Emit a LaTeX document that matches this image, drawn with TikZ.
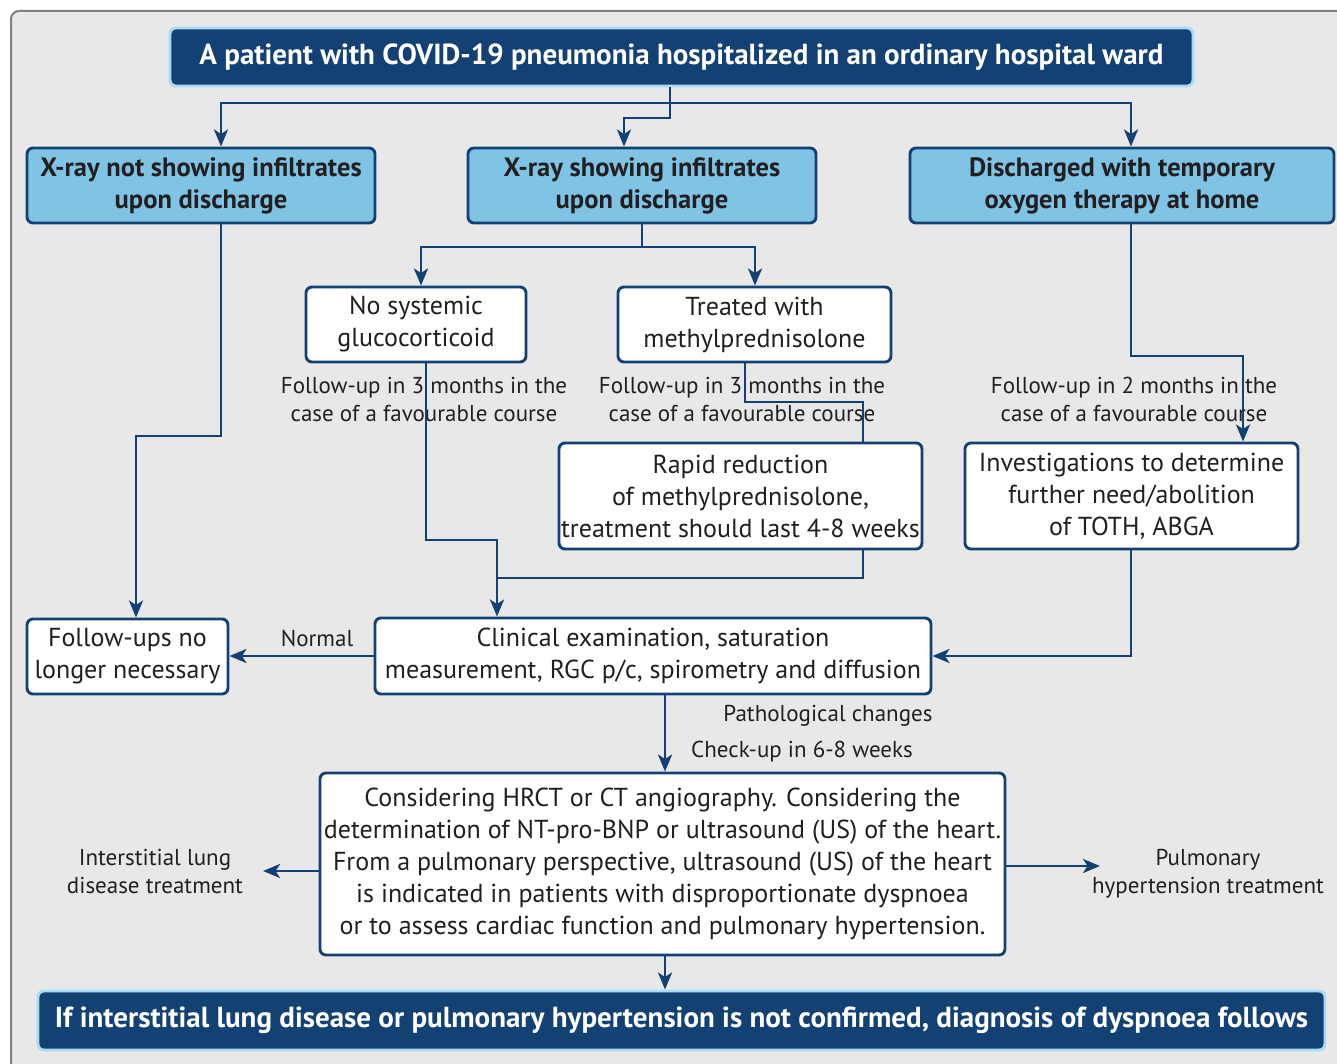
\documentclass[tikz,border=0pt]{standalone}
\usepackage{fontspec}
\setmainfont{PT Sans}
\usetikzlibrary{arrows.meta}
\definecolor{dblue}{HTML}{134173}
\definecolor{lblue}{HTML}{7FC4E4}
\definecolor{lborder}{HTML}{A8DCF2}
\definecolor{bgc}{HTML}{E8E8E8}
\definecolor{frm}{HTML}{808080}
\definecolor{txt}{HTML}{231F20}
\begin{document}
\begin{tikzpicture}[x=1pt,y=-1pt,
 line/.style={draw=dblue,line width=2.9pt},
 arr/.style={line,-{Stealth[length=17pt,width=14pt,inset=4.5pt]}},
 darkbox/.style={draw=lborder,line width=2.9pt,fill=dblue,rounded corners=6pt,text=white,inner sep=0pt,font=\fontsize{29}{32}\selectfont\bfseries},
 lbox/.style={draw=dblue,line width=2.9pt,fill=lblue,rounded corners=6pt,text=txt,align=center,inner sep=0pt,font=\fontsize{26.5}{32}\selectfont\bfseries},
 wbox/.style={draw=dblue,line width=2.9pt,fill=white,rounded corners=6pt,text=txt,align=center,inner sep=0pt,font=\fontsize{26}{32}\selectfont},
 lab/.style={text=txt,align=center,inner sep=0pt,font=\fontsize{23}{28}\selectfont},
]
\useasboundingbox (0,0) rectangle (1337,1064);
\begin{scope}
\clip (0,0) rectangle (1337,1064);
\draw[draw=frm,line width=2pt,fill=bgc,rounded corners=8pt] (11,11) rectangle (1370,1100);
\end{scope}

% nodes
\node[darkbox,minimum width=1023,minimum height=58] (top) at (681.5,57) {A patient with COVID-19 pneumonia hospitalized in an ordinary hospital ward};
\node[lbox,minimum width=348,minimum height=75] (b1) at (201,185.5) {X-ray not showing infiltrates\\upon discharge};
\node[lbox,minimum width=348,minimum height=75] (b2) at (642,185.5) {X-ray showing infiltrates\\upon discharge};
\node[lbox,minimum width=424,minimum height=75] (b3) at (1122,185.5) {Discharged with temporary\\oxygen therapy at home};
\node[wbox,minimum width=220,minimum height=75] (n1) at (416,324.5) {No systemic\\glucocorticoid};
\node[wbox,minimum width=273,minimum height=75] (n2) at (754.5,324.5) {Treated with\\methylprednisolone};
\node[wbox,minimum width=363,minimum height=106] (rapid) at (740.5,496) {Rapid reduction\\of methylprednisolone,\\treatment should last 4-8 weeks};
\node[wbox,minimum width=333,minimum height=106] (inv) at (1131.5,496) {Investigations to determine\\further need/abolition\\of TOTH, ABGA};
\node[wbox,minimum width=201,minimum height=75] (fu) at (127.5,656.5) {Follow-ups no\\longer necessary};
\node[wbox,minimum width=556,minimum height=76] (clin) at (653,656) {Clinical examination, saturation\\measurement, RGC p/c, spirometry and diffusion};
\node[wbox,minimum width=685,minimum height=182] (big) at (662.5,864) {Considering HRCT or CT angiography. Considering the\\determination of NT-pro-BNP or ultrasound (US) of the heart.\\From a pulmonary perspective, ultrasound (US) of the heart\\is indicated in patients with disproportionate dyspnoea\\or to assess cardiac function and pulmonary hypertension.};
\node[darkbox,minimum width=1287,minimum height=59] (bot) at (681.5,1020.5) {If interstitial lung disease or pulmonary hypertension is not confirmed, diagnosis of dyspnoea follows};

% labels
\node[lab] (f1) at (424,399) {Follow-up in 3 months in the\\case of a favourable course};
\node[lab] (f2) at (742,399) {Follow-up in 3 months in the\\case of a favourable course};
\node[lab] (f3) at (1134,399) {Follow-up in 2 months in the\\case of a favourable course};
\node[lab] (normal) at (317,638) {Normal};
\node[lab] (patho) at (828,716) {Pathological changes};
\node[lab] (check) at (802,752) {Check-up in 6-8 weeks};
\node[lab] (ild) at (155,871) {Interstitial lung\\disease treatment};
\node[lab] (ph) at (1208,874) {Pulmonary\\hypertension treatment};

% helper coordinates
\coordinate (x221) at (221,0);
\coordinate (x624) at (624,0);
\coordinate (x670) at (670,0);
\coordinate (x1131) at (1131,0);
\coordinate (x136) at (136,0);
\coordinate (x421) at (421,0);
\coordinate (x755) at (755,0);
\coordinate (x497) at (497,0);
\coordinate (x863) at (863,0);
\coordinate (x1243) at (1243,0);
\coordinate (x665) at (665,0);
\coordinate (j0) at (670,103);
\coordinate (jm) at (670,118);
\coordinate (k1) at (221,436);
\coordinate (k2) at (642,247);
\coordinate (k3) at (426,540);
\coordinate (k4) at (745,402);
\coordinate (k5) at (863,578);
\coordinate (k6) at (1131,356);
\coordinate (k7) at (1131,656);
\coordinate (ildtip) at (263,871);
\coordinate (ildstart) at (320,871);
\coordinate (phstart) at (1005,866);
\coordinate (phtip) at (1100,866);

% connectors
\draw[line] (top.south -| x670) -- (j0);
\draw[arr] (j0) -| (b1.north -| x221);
\draw[arr] (j0) -| (b3.north -| x1131);
\draw[arr] (j0) -- (jm) -| (b2.north -| x624);
\draw[arr] (b1.south -| k1) -- (k1) -| (fu.north -| x136);
\draw[line] (b2.south -| k2) -- (k2);
\draw[arr] (k2) -| (n1.north -| x421);
\draw[arr] (k2) -| (n2.north -| x755);
\draw[arr] (n1.south -| k3) -- (k3) -| (clin.north -| x497);
\draw[line] (n2.south -| k4) -- (k4) -| (rapid.north -| x863);
\draw[line] (rapid.south -| k5) -- (k5) -- (k5 -| x497);
\draw[arr] (b3.south -| k6) -- (k6) -| (inv.north -| x1243);
\draw[arr] (inv.south -| k7) -- (k7) -- (clin.east |- k7);
\draw[arr] (clin.west) -- (fu.east |- clin.west);
\draw[arr] (clin.south -| x665) -- (big.north -| x665);
\draw[arr] (big.south -| x665) -- (bot.north -| x665);
\draw[arr] (ildstart) -- (ildtip);
\draw[arr] (phstart) -- (phtip);
\end{tikzpicture}
\end{document}
